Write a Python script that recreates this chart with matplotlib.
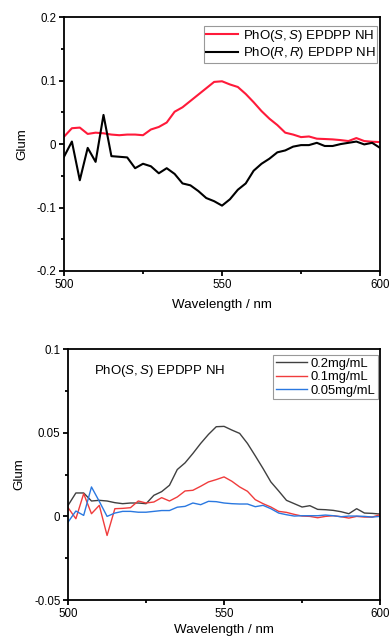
import matplotlib
matplotlib.use("Agg")
import matplotlib.pyplot as plt
import numpy as np
from matplotlib.ticker import MultipleLocator, FixedLocator

plt.rcParams["font.family"] = ["Liberation Sans", "DejaVu Sans"]
plt.rcParams["mathtext.fontset"] = "custom"
plt.rcParams["mathtext.rm"] = "Liberation Sans"
plt.rcParams["mathtext.it"] = "Liberation Sans:italic"

# ── Data ─────────────────────────────────────────────────────────────────────
wavelength = np.arange(500, 600.1, 2.5)

glum_ss = [0.0116, 0.025, 0.026, 0.016, 0.018, 0.017, 0.015, 0.014, 0.015, 0.015,
           0.014, 0.023, 0.027, 0.034, 0.051, 0.058, 0.068, 0.078, 0.088, 0.098,
           0.099, 0.094, 0.090, 0.079, 0.066, 0.052, 0.040, 0.030, 0.018, 0.015,
           0.011, 0.012, 0.0085, 0.008, 0.0074, 0.0063, 0.0048, 0.0095, 0.0048, 0.0037,
           0.0032]
glum_rr = [-0.020, 0.004, -0.057, -0.006, -0.028, 0.046, -0.019, -0.020, -0.021, -0.038,
           -0.031, -0.035, -0.046, -0.038, -0.047, -0.062, -0.065, -0.074, -0.085, -0.090,
           -0.097, -0.087, -0.072, -0.062, -0.042, -0.031, -0.023, -0.013, -0.010, -0.004,
           -0.0016, -0.0016, 0.002, -0.003, -0.003, 0.0, 0.002, 0.004, -0.0005, 0.002,
           -0.006]

conc_02 = [0.0066, 0.014, 0.014, 0.0092, 0.0096, 0.0092, 0.0082, 0.0076, 0.008, 0.008,
           0.0076, 0.0126, 0.0148, 0.0186, 0.028, 0.032, 0.0376, 0.0436, 0.049, 0.0536,
           0.0538, 0.0516, 0.0496, 0.0436, 0.0362, 0.0286, 0.0206, 0.0152, 0.0096, 0.0076,
           0.0056, 0.0064, 0.0042, 0.004, 0.0036, 0.0028, 0.0016, 0.0046, 0.002, 0.0018,
           0.0014]
conc_01 = [0.0052, -0.0014, 0.0136, 0.0016, 0.0066, -0.0114, 0.0046, 0.0048, 0.0052, 0.0092,
           0.008, 0.0086, 0.0112, 0.0092, 0.0116, 0.0152, 0.0156, 0.018, 0.0206, 0.022,
           0.0236, 0.021, 0.0176, 0.015, 0.010, 0.0076, 0.0056, 0.003, 0.0024, 0.0012,
           0.0002, 0.0, -0.0008, 0.0, 0.0004, -0.0002, -0.001, 0.0, -0.0004, -0.0004,
           0.001]
conc_005 = [-0.0034, 0.0032, 0.0006, 0.0176, 0.009, 0.0, 0.002, 0.003, 0.003, 0.0025,
            0.0025, 0.003, 0.0035, 0.0035, 0.0055, 0.006, 0.008, 0.007, 0.009, 0.0088,
            0.008, 0.0076, 0.0074, 0.0074, 0.0058, 0.0066, 0.0046, 0.002, 0.001, 0.0002,
            0.0004, 0.0004, 0.0004, 0.0008, 0.0004, -0.0002, 0.0002, 0.0002, 0.0, -0.0004,
            0.0]

top_yticks = [-0.2, -0.1, 0, 0.1, 0.2]
top_yticklabels = ["-0.2", "-0.1", "0", "0.1", "0.2"]
bot_yticks = [-0.05, 0, 0.05, 0.1]
bot_yticklabels = ["-0.05", "0", "0.05", "0.1"]
xticks = [500, 550, 600]

# ── Figure ───────────────────────────────────────────────────────────────────
fig = plt.figure(figsize=(3.89, 6.37), dpi=100)
ax1 = fig.add_axes([0.1645, 0.5746, 0.8125, 0.3984])
ax2 = fig.add_axes([0.175, 0.058, 0.802, 0.394])


def style(ax, lw, xpad):
    for s in ax.spines.values():
        s.set_linewidth(lw)
    ax.tick_params(which="major", direction="out", length=3.5, width=lw, labelsize=8.3, pad=2)
    ax.tick_params(which="minor", direction="out", length=2, width=lw)
    ax.set_xlim(500, 600)
    ax.xaxis.set_major_locator(FixedLocator(xticks))
    ax.xaxis.set_minor_locator(MultipleLocator(25))
    ax.set_xlabel("Wavelength / nm", fontsize=9.6, labelpad=xpad)
    ax.set_ylabel("Glum", fontsize=9.6, labelpad=6)


# Top panel
ax1.plot(wavelength, glum_ss, color="#ff1a3a", lw=1.5, label="PhO($\\it{S,S}$) EPDPP NH")
ax1.plot(wavelength, glum_rr, color="black", lw=1.5, label="PhO($\\it{R,R}$) EPDPP NH")
ax1.set_ylim(-0.2, 0.2)
ax1.set_yticks(top_yticks)
ax1.set_yticklabels(top_yticklabels)
ax1.yaxis.set_minor_locator(MultipleLocator(0.05))
style(ax1, 1.3, 6)
leg1 = ax1.legend(loc="upper right", bbox_to_anchor=(0.9905, 0.9646), fontsize=9.5,
                  handlelength=2.4, handletextpad=0.38, borderpad=0.12, labelspacing=0.12,
                  fancybox=False, framealpha=1, edgecolor="#999999", borderaxespad=0)
leg1.get_frame().set_linewidth(0.8)

# Bottom panel
ax2.plot(wavelength, conc_02, color="#404040", lw=1.0, label="0.2mg/mL")
ax2.plot(wavelength, conc_01, color="#f03c3c", lw=1.0, label="0.1mg/mL")
ax2.plot(wavelength, conc_005, color="#2a78e0", lw=1.0, label="0.05mg/mL")
ax2.set_ylim(-0.05, 0.1)
ax2.set_yticks(bot_yticks)
ax2.set_yticklabels(bot_yticklabels)
ax2.yaxis.set_minor_locator(MultipleLocator(0.025))
style(ax2, 1.3, 3)
ax2.text(0.083, 0.9, "PhO($\\it{S,S}$) EPDPP NH", transform=ax2.transAxes, fontsize=9.5)
leg2 = ax2.legend(loc="upper right", bbox_to_anchor=(0.9936, 0.976), fontsize=9.4,
                  handlelength=2.4, handletextpad=0.25, borderpad=0.2, labelspacing=0.1,
                  fancybox=False, framealpha=1, edgecolor="#999999", borderaxespad=0)
leg2.get_frame().set_linewidth(0.8)

fig.savefig("out.png", dpi=100)
